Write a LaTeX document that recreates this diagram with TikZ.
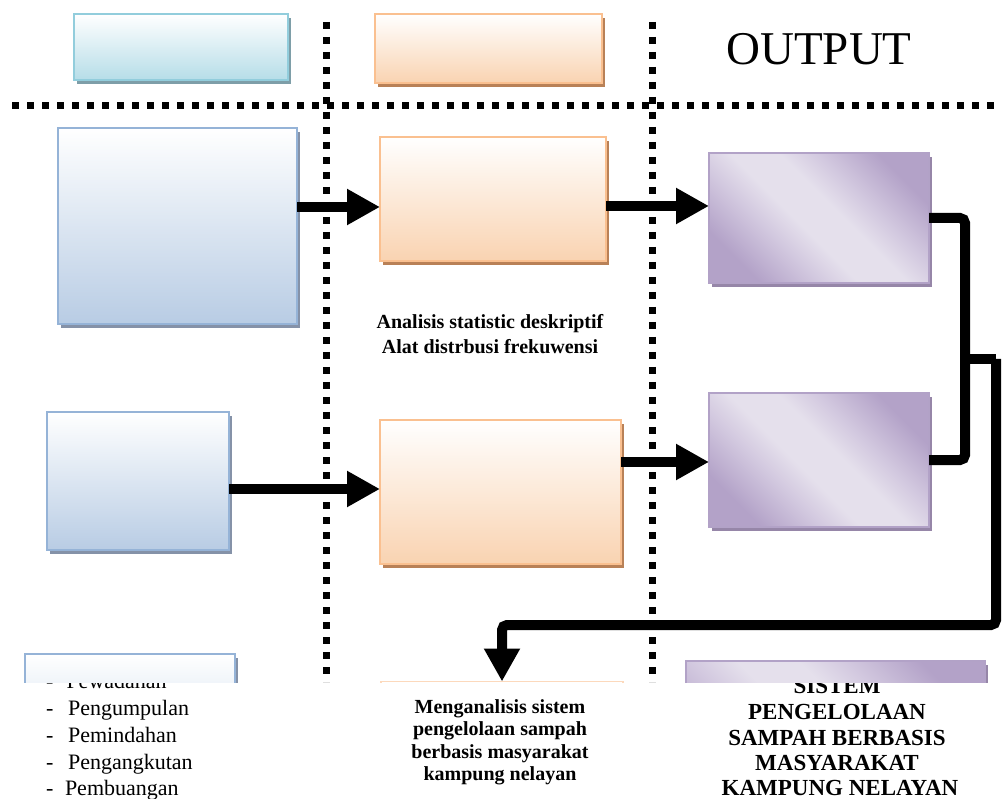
\documentclass[tikz,border=0pt]{standalone}
\usepackage{fontspec}
\setmainfont{Liberation Serif}
\usetikzlibrary{arrows.meta,shadows}
\definecolor{tealB}{HTML}{92CDDC}
\definecolor{tealF}{HTML}{B6DDE8}
\definecolor{tealS}{HTML}{7E9EA8}
\definecolor{orB}{HTML}{FAC090}
\definecolor{orF}{HTML}{F9D3B1}
\definecolor{orS}{HTML}{B98157}
\definecolor{blB}{HTML}{95B3D7}
\definecolor{blF}{HTML}{B8CCE4}
\definecolor{blS}{HTML}{8592A8}
\definecolor{purB}{HTML}{B2A2C7}
\definecolor{purD}{HTML}{B3A2C8}
\definecolor{purM}{HTML}{D2C8DF}
\definecolor{purL}{HTML}{E5E0EC}
\definecolor{purS}{HTML}{9686A8}
\pgfdeclarehorizontalshading{purshade}{100bp}{color(0bp)=(purD); color(25bp)=(purD); color(37bp)=(purM); color(45bp)=(purL); color(55bp)=(purL); color(63bp)=(purM); color(75bp)=(purD); color(100bp)=(purD)}
\begin{document}
\begin{tikzpicture}[x=1pt,y=-1pt,
  boxbase/.style={rectangle, draw, line width=2.2pt, inner sep=0pt, outer sep=0pt},
  tealbox/.style={boxbase, draw=tealB, top color=white, bottom color=tealF,
     general shadow={fill=tealS, shadow xshift=3pt, shadow yshift=-4pt}},
  orbox/.style={boxbase, draw=orB, top color=white, bottom color=orF,
     general shadow={fill=orS, shadow xshift=3pt, shadow yshift=-4pt}},
  blbox/.style={boxbase, draw=blB, top color=white, bottom color=blF,
     general shadow={fill=blS, shadow xshift=3pt, shadow yshift=-4pt}},
  purbox/.style={boxbase, draw=purB, shade, shading=purshade, shading angle=45,
     general shadow={fill=purS, shadow xshift=3pt, shadow yshift=-4pt}},
  dotline/.style={line width=7pt, dash pattern=on 7pt off 8pt},
  arr/.style={line width=10pt, -{Triangle[length=33pt,width=34pt]}},
  conn/.style={line width=10pt, rounded corners=5pt},
  boldtxt/.style={font=\fontsize{20}{24}\selectfont\bfseries, inner sep=0pt, anchor=base},
  listtxt/.style={font=\fontsize{22}{26}\selectfont, inner sep=0pt, anchor=base west},
  captxt/.style={font=\fontsize{23}{26}\selectfont\bfseries, inner sep=0pt, anchor=base}
]
\useasboundingbox (0,0) rectangle (1004,799);

% dotted separators
\coordinate (v1a) at (326,22);
\coordinate (v1b) at (326,682);
\coordinate (v2a) at (652,22);
\coordinate (v2b) at (652,682);
\coordinate (h1a) at (12,106);
\coordinate (h1b) at (1000,106);
\draw[dotline] (v1a) -- (v1b);
\draw[dotline] (v2a) -- (v2b);
\draw[dotline] (h1a) -- (h1b);

% header
\node[tealbox, minimum width=214pt, minimum height=66pt] (hin) at (181,47) {};
\node[orbox, minimum width=227pt, minimum height=69pt] (hproc) at (488.5,48.5) {};
\node[font=\fontsize{47}{47}\selectfont, inner sep=0pt, anchor=base] (hout) at (819,65) {OUTPUT};

% main boxes
\node[blbox, minimum width=239pt, minimum height=196pt] (blue1) at (177.5,226) {};
\node[orbox, minimum width=226pt, minimum height=124pt] (orange1) at (493,199) {};
\node[purbox, minimum width=220pt, minimum height=130pt] (purple1) at (819,218) {};
\node[blbox, minimum width=182pt, minimum height=138pt] (blue2) at (138,481) {};
\node[orbox, minimum width=241pt, minimum height=144pt] (orange2) at (500.5,492) {};
\node[purbox, minimum width=220pt, minimum height=134pt] (purple2) at (819,460) {};

% arrow levels
\coordinate (ya) at (0,207);
\coordinate (yb) at (0,206);
\coordinate (yc) at (0,489);
\coordinate (yd) at (0,462);
\draw[arr] (blue1.east |- ya) -- (orange1.west |- ya);
\draw[arr] (orange1.east |- yb) -- (purple1.west |- yb);
\draw[arr] (blue2.east |- yc) -- (orange2.west |- yc);
\draw[arr] (orange2.east |- yd) -- (purple2.west |- yd);

% middle label
\node[boldtxt] (an1) at (490,329) {Analisis statistic deskriptif};
\node[boldtxt] (an2) at (490,354) {Alat distrbusi frekuwensi};

% bottom texts (behind the cut boxes)
\node[listtxt] (l1) at (46,688) {-\hspace{13pt}Pewadahan};
\node[listtxt] (l2) at (46,715) {-\hspace{14.5pt}Pengumpulan};
\node[listtxt] (l3) at (46,742) {-\hspace{14.5pt}Pemindahan};
\node[listtxt] (l4) at (46,769) {-\hspace{14.5pt}Pengangkutan};
\node[listtxt] (l5) at (46,795) {-\hspace{11.5pt}Pembuangan};

\node[boldtxt] (m1) at (500,713) {Menganalisis sistem};
\node[boldtxt] (m2) at (500,735.5) {pengelolaan sampah};
\node[boldtxt] (m3) at (500,758) {berbasis masyarakat};
\node[boldtxt] (m4) at (500,780) {kampung nelayan};

\node[captxt] (s1) at (837,693) {SISTEM};
\node[captxt] (s2) at (837,719) {PENGELOLAAN};
\node[captxt] (s3) at (837,745) {SAMPAH BERBASIS};
\node[captxt] (s4) at (837,770) {MASYARAKAT};
\node[captxt] (s5) at (840,795) {KAMPUNG NELAYAN};

% bottom boxes, cut at the lower edge of the visible page
\begin{scope}
\clip (0,0) rectangle (1004,682);
\node[blbox, minimum width=210pt, minimum height=140pt] (blue3) at (130,724) {};
\node[boxbase, line width=1.2pt, draw=orB!60, fill=white, minimum width=242pt, minimum height=120pt] (orange3) at (502,741.5) {};
\node[purbox, minimum width=299pt, minimum height=136pt] (purple3) at (835.5,729) {};
\end{scope}

% output connectors
\coordinate (jA) at (965,359);
\coordinate (jB) at (996,359);
\coordinate (jC) at (996,625);
\draw[conn] (purple1.east) -| (jA) |- (purple2.east);
\draw[conn] (jA) -- (jB);
\draw[line width=10pt, rounded corners=5pt, -{Triangle[length=33pt,width=34pt]}]
  (jB) -- (jC) -| (orange3.north);
\end{tikzpicture}
\end{document}
